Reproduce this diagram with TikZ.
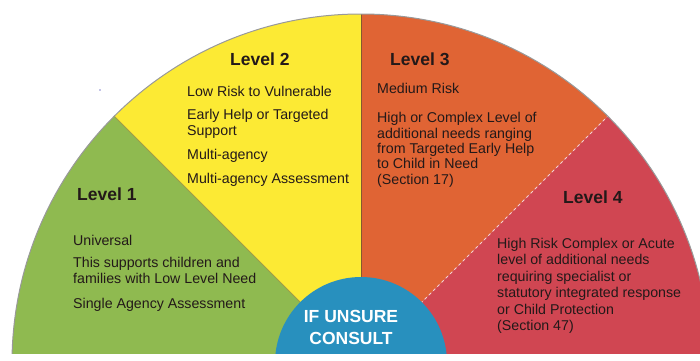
\documentclass[tikz,border=0pt]{standalone}
\usepackage{fontspec}
\setmainfont{Liberation Sans}
\definecolor{lvgreen}{RGB}{143,186,80}
\definecolor{lvyellow}{RGB}{252,234,52}
\definecolor{lvorange}{RGB}{224,100,52}
\definecolor{lvred}{RGB}{208,70,82}
\definecolor{unsure}{RGB}{40,144,190}
\definecolor{txt}{RGB}{35,25,25}

\begin{document}
\begin{tikzpicture}[x=1pt,y=1pt,
  head/.style={anchor=base west,inner sep=0pt,text=txt,
    font=\fontsize{17.5}{20}\selectfont\bfseries},
  body/.style={anchor=base west,inner sep=0pt,align=left,text=txt,
    font=\fontsize{14.2}{15.5}\selectfont}]
      \useasboundingbox (0,0) rectangle (700,360);
      \coordinate (c) at (361,-3);
      % the four sectors, cut off at the bottom line
      \begin{scope}
        \clip (0,7) rectangle (700,360);
        \fill[lvgreen]  (c) -- ++(180:349) arc[start angle=180,end angle=135,radius=349] -- cycle;
        \fill[lvyellow] (c) -- ++(135:349) arc[start angle=135,end angle=90,radius=349] -- cycle;
        \fill[lvorange] (c) -- ++(90:349) arc[start angle=90,end angle=45,radius=349] -- cycle;
        \fill[lvred]    (c) -- ++(45:349) arc[start angle=45,end angle=0,radius=349] -- cycle;
        \draw[olive!80!black!70,line width=0.8pt] (c) -- ++(135:349);
        \draw[brown!70!black,line width=0.6pt] (c) -- ++(90:349);
        \draw[white!75!lvred,dashed,line width=0.8pt] (c) -- ++(45:349);
        \draw[gray!80,line width=1pt] (c) ++(0:349) arc[start angle=0,end angle=180,radius=349];
        \fill[unsure] (c) circle (86);
      \end{scope}
      \fill[blue!60!black] (100,270) circle (0.7);

      \node[head] (lvone)   at (77,160)  {Level 1};
      \node[head] (lvtwo)   at (230,295) {Level 2};
      \node[head] (lvthree) at (390,295) {Level 3};
      \node[head] (lvfour)  at (563,157) {Level 4};

      % multi-line nodes sit on the baseline of their last line
      \node[body,font=\fontsize{14.2}{16}\selectfont] (lvonetxt) at (73,52)
        {Universal\\[6pt]This supports children and\\families with Low Level Need\\[9pt]Single Agency Assessment};
      \node[body] (lvtwotxt) at (187,177)
        {Low Risk to Vulnerable\\[8pt]Early Help or Targeted\\Support\\[8.5pt]Multi-agency\\[8.5pt]Multi-agency Assessment};
      \node[body,font=\fontsize{14.2}{15.3}\selectfont] (lvthreetxt) at (377,176)
        {Medium Risk\\[14.4pt]High or Complex Level of\\additional needs ranging\\from Targeted Early Help\\to Child in Need\\(Section 17)};
      \node[body,font=\fontsize{14.2}{16.4}\selectfont] (lvfourtxt) at (497,29.5)
        {High Risk Complex or Acute\\level of additional needs\\requiring specialist or\\statutory integrated response\\or Child Protection\\(Section 47)};

      \node[anchor=base,inner sep=0pt,align=center,text=white,
        font=\fontsize{17.5}{22}\selectfont\bfseries] (unsuretxt) at (351,16) {IF UNSURE\\CONSULT};
\end{tikzpicture}
\end{document}
